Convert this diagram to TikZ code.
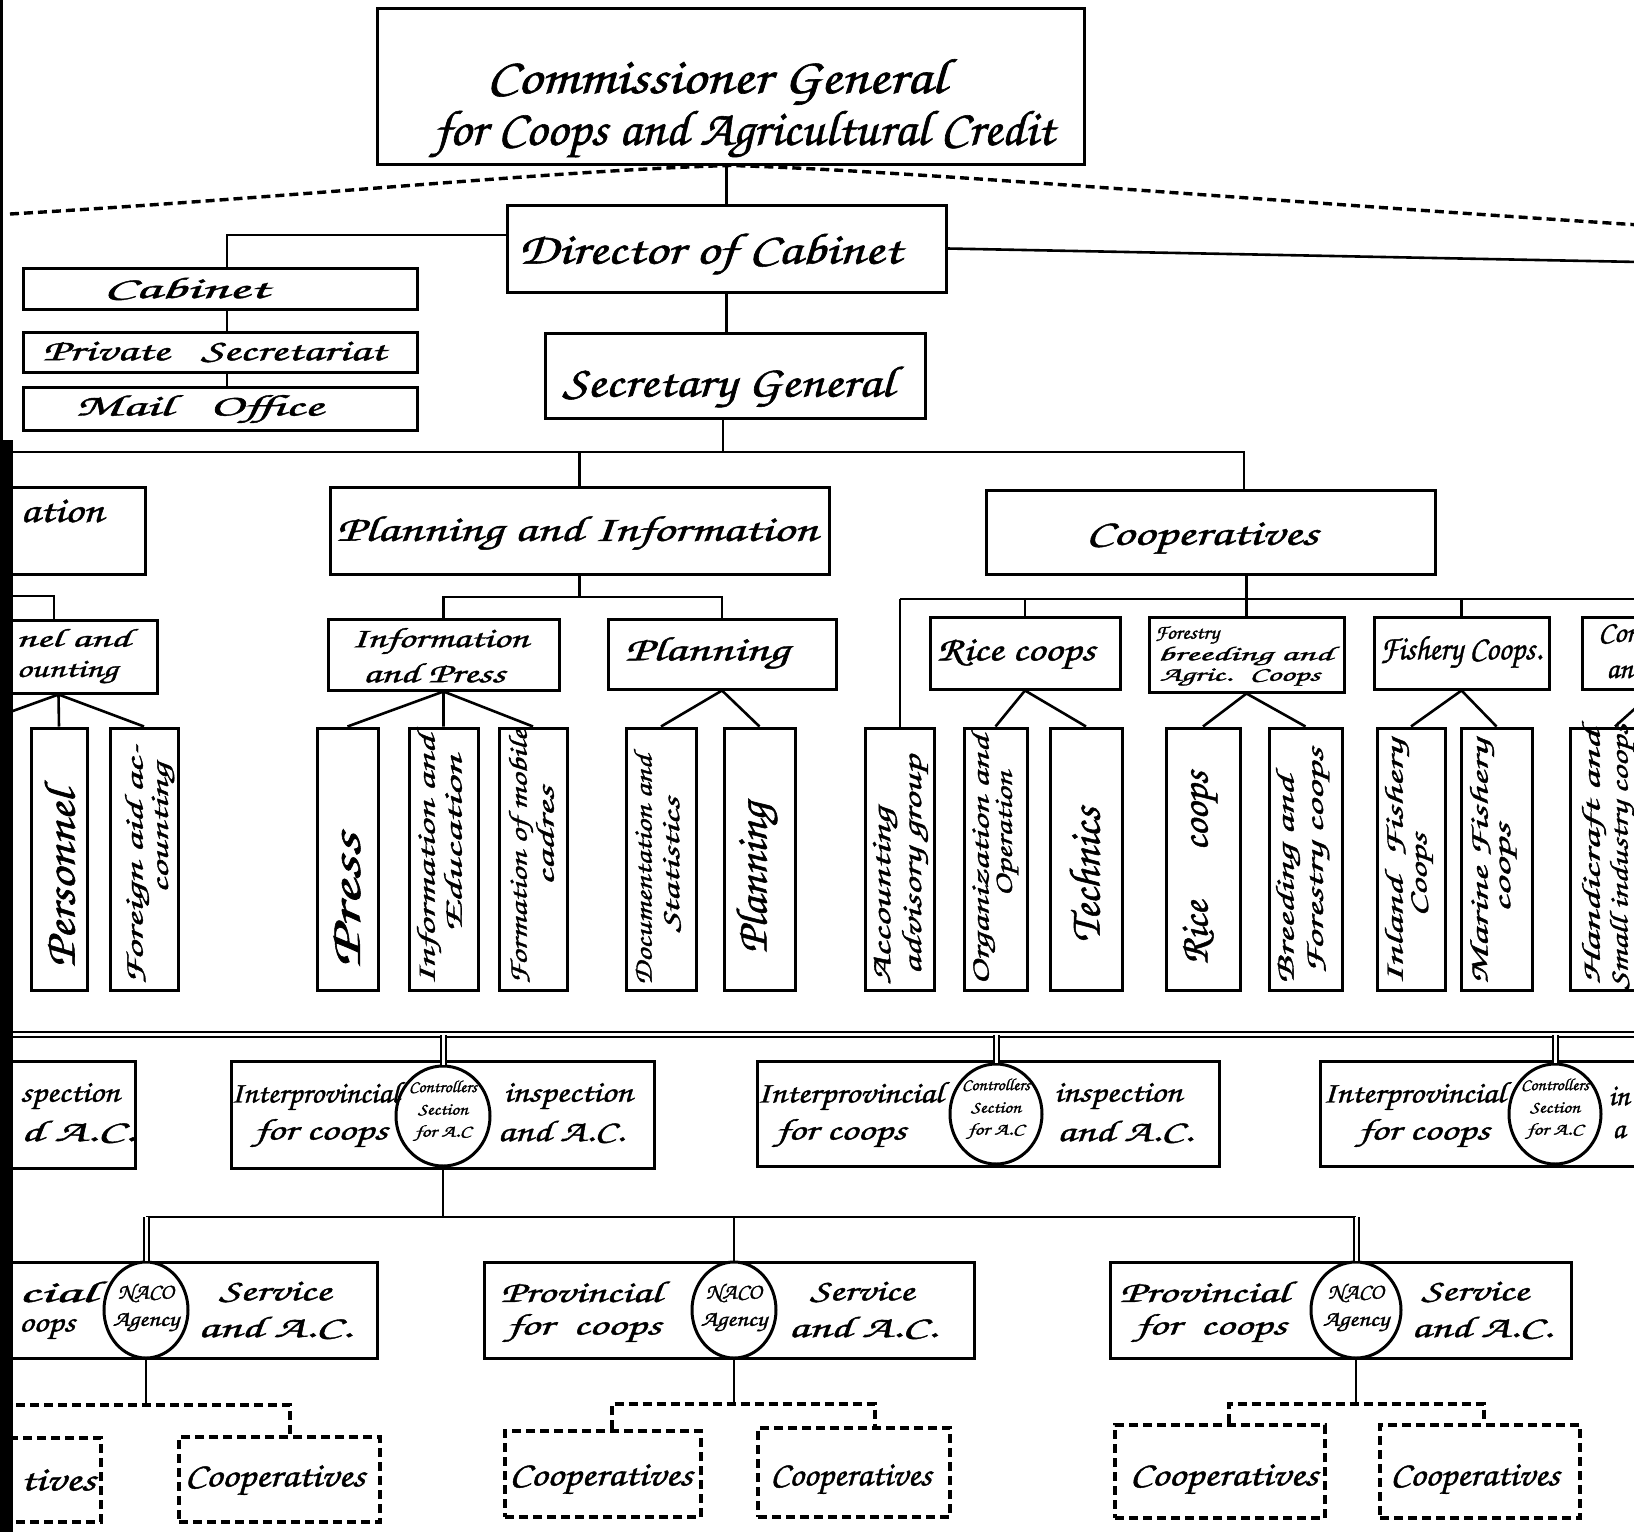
\documentclass[tikz,border=0pt]{standalone}
\usepackage{fontspec}
\usepackage{graphicx}
\usetikzlibrary{shapes.geometric,fit,calc}
\IfFontExistsTF{TeX Gyre Chorus}{\newfontfamily\scr{TeX Gyre Chorus}[FakeBold=1.2]}{\newcommand\scr{\itshape}}
\newcommand\fw[2]{\resizebox{#1pt}{\height}{#2}}
\tikzset{
  box/.style={draw, line width=1.5pt, inner sep=0pt},
  dbox/.style={draw, line width=1.6pt, dash pattern=on 4.5pt off 2.5pt, inner sep=0pt},
  ell/.style={ellipse, draw, line width=1.5pt, fill=white, inner sep=0pt},
  ln/.style={line width=1.3pt},
  dsh/.style={line width=1.7pt, dash pattern=on 4.5pt off 2.5pt},
  dbl/.style={double, double distance=1.5pt, line width=1pt},
  fs/.style={font=\scr\fontsize{#1}{#1}\selectfont, inner sep=0pt},
  vt/.style={fs=#1, rotate=90},
}
\begin{document}
\begin{tikzpicture}[x=0.5pt, y=-0.5pt]
\useasboundingbox (0,0) rectangle (1634,1532);
\fill[white] (0,0) rectangle (1634,1532);
\clip (0,0) rectangle (1634,1532);

% ---------- top ----------
\node[box, fit={(377,8) (1084,164)}] (comm) {};
\node[box, fit={(507,205) (946,292)}] (dir) {};
\node[box, fit={(23,268) (417,309)}] (cab) {};
\node[box, fit={(23,332) (417,372)}] (priv) {};
\node[box, fit={(23,387) (417,430)}] (mail) {};
\node[box, fit={(545,333) (925,418)}] (sec) {};

\coordinate (dL) at (10,214);
\coordinate (dR) at (1640,225);
\draw[dsh] (dL) .. controls (300,197) and (560,170) .. (comm.south)
            .. controls (900,170) and (1250,200) .. (dR);
\draw[ln] (dir.north |- comm.south) -- (dir.north);
\coordinate (dl) at (227,235);
\draw[ln] (dl -| dir.west) -- (dl) -- (cab.north -| dl);
\draw[ln] (cab.south -| dl) -- (priv.north -| dl);
\draw[ln] (priv.south -| dl) -- (mail.north -| dl);
\coordinate (dr) at (1640,262);
\draw[ln] (dir.east) -- (dr);
\draw[ln] (dir.south) -- (dir.south |- sec.north);

% ---------- level 1 ----------
\coordinate (b1L) at (10,452);
\coordinate (b1R) at (1244,452);
\coordinate (b1m) at (723,452);
\node[box, fit={(-40,487) (145,574)}] (adm) {};
\node[box, fit={(330,487) (829,574)}] (pi) {};
\node[box, fit={(986,490) (1435,574)}] (coop) {};
\draw[ln] (b1m |- sec.south) -- (b1m);
\draw[ln] (b1L) -- (b1R) -- (b1R |- coop.north);
\draw[ln] (pi.north |- b1L) -- (pi.north);

% ---------- level 2 ----------
\node[box, fit={(-40,620) (157,693)}] (pa) {};
\node[box, fit={(328,619) (559,690)}] (ip) {};
\node[box, fit={(608,619) (836,689)}] (pl) {};
\node[box, fit={(930,617) (1120,689)}] (rc) {};
\node[box, fit={(1149,617) (1344,692)}] (fo) {};
\node[box, fit={(1374,617) (1549,689)}] (fi) {};
\node[box, fit={(1582,617) (1720,689)}] (cn) {};

\coordinate (pa0) at (10,596);
\coordinate (pa1) at (54,596);
\draw[ln] (pa0) -- (pa1) -- (pa1 |- pa.north);
\coordinate (b2) at (0,597);
\draw[ln] (pi.south) -- (pi.south |- b2);
\draw[ln] (ip.north) -- (ip.north |- b2) -- (pl.north |- b2) -- (pl.north);
\coordinate (b3L) at (900,599);
\coordinate (b3R) at (1640,599);
\draw[ln] (b3L) -- (b3R);
\draw[ln] (coop.south -| fo.north) -- (fo.north);
\draw[ln] (rc.north |- b3L) -- (rc.north);
\draw[ln] (fi.north |- b3L) -- (fi.north);

% ---------- tall boxes ----------
\node[box, fit={(31,728) (87,990)}] (pers) {};
\node[box, fit={(110,728) (178,990)}] (fac) {};
\node[box, fit={(317,728) (378,990)}] (press) {};
\node[box, fit={(409,728) (478,990)}] (ie) {};
\node[box, fit={(499,728) (567,990)}] (fm) {};
\node[box, fit={(626,728) (696,990)}] (ds) {};
\node[box, fit={(724,728) (795,990)}] (plt) {};
\node[box, fit={(865,728) (934,990)}] (acc) {};
\node[box, fit={(964,728) (1027,990)}] (oo) {};
\node[box, fit={(1050,728) (1122,990)}] (te) {};
\node[box, fit={(1166,728) (1240,990)}] (rct) {};
\node[box, fit={(1269,728) (1342,990)}] (bf) {};
\node[box, fit={(1377,728) (1445,990)}] (inl) {};
\node[box, fit={(1461,728) (1532,990)}] (mar) {};
\node[box, fit={(1570,728) (1660,990)}] (hc) {};

\coordinate (paL) at (10,712);
\draw[ln] (paL) -- (pa.south) -- (pers.north);
\draw[ln] (pa.south) -- (fac.north);
\draw[ln] (press.north) -- (ip.south) -- (ie.north);
\draw[ln] (ip.south) -- (fm.north);
\draw[ln] (ds.north) -- (pl.south) -- (plt.north);
\draw[ln] (b3L) -- (b3L |- acc.north);
\draw[ln] (oo.north) -- (rc.south) -- (te.north);
\draw[ln] (rct.north) -- (fo.south) -- (bf.north);
\draw[ln] (inl.north) -- (fi.south) -- (mar.north);
\coordinate (hcP) at (1650,695);
\draw[ln] (hcP) -- (hc.north);

% ---------- interprovincial ----------
\coordinate (dblL) at (10,1034.5);
\coordinate (dblR) at (1640,1034.5);
\draw[dbl] (dblL) -- (dblR);
\node[box, fit={(-40,1061) (135,1168)}] (ipL) {};
\node[box, fit={(231,1061) (654,1168)}] (ip1) {};
\node[box, fit={(757,1061) (1219,1166)}] (ip2) {};
\node[box, fit={(1320,1061) (1720,1166)}] (ip3) {};
\node[ell, minimum width=47pt, minimum height=50pt] (c1) at (443,1116) {};
\node[ell, minimum width=46pt, minimum height=50pt] (c2) at (996,1114) {};
\node[ell, minimum width=46pt, minimum height=50pt] (c3) at (1555,1114) {};
\draw[dbl] (c1.north) -- (c1.north |- dblL);
\draw[dbl] (c2.north) -- (c2.north |- dblL);
\draw[dbl] (c3.north) -- (c3.north |- dblL);

% ---------- provincial ----------
\node[box, fit={(-40,1262) (377,1358)}] (pvL) {};
\node[box, fit={(484,1262) (974,1358)}] (pv1) {};
\node[box, fit={(1110,1262) (1571,1358)}] (pv2) {};
\node[ell, minimum width=42pt, minimum height=48pt] (n0) at (146,1310) {};
\node[ell, minimum width=42pt, minimum height=48pt] (n1) at (734,1310) {};
\node[ell, minimum width=45pt, minimum height=48pt] (n2) at (1356,1310) {};
\coordinate (bb) at (443,1217);
\draw[ln] (c1.south) -- (bb);
\draw[ln] (n0.north |- bb) -- (n2.north |- bb);
\draw[dbl] (n0.north) -- (n0.north |- bb);
\draw[ln] (n1.north) -- (n1.north |- bb);
\draw[dbl] (n2.north) -- (n2.north |- bb);

% ---------- dashed cooperatives ----------
\node[dbox, fit={(-40,1438) (101,1522)}] (cL1) {};
\node[dbox, fit={(179,1437) (380,1522)}] (cL2) {};
\node[dbox, fit={(505,1431) (701,1517)}] (cM1) {};
\node[dbox, fit={(758,1428) (950,1517)}] (cM2) {};
\node[dbox, fit={(1115,1425) (1325,1518)}] (cR1) {};
\node[dbox, fit={(1380,1425) (1580,1518)}] (cR2) {};
\coordinate (hL) at (16,1405);
\coordinate (hL2) at (290,1405);
\draw[ln] (n0.south) -- (n0.south |- hL);
\draw[dsh] (hL) -- (hL2) -- (hL2 |- cL2.north);
\coordinate (hM1) at (612,1404);
\coordinate (hM2) at (875,1404);
\draw[ln] (n1.south) -- (n1.south |- hM1);
\draw[dsh] (hM1 |- cM1.north) -- (hM1) -- (hM2) -- (hM2 |- cM2.north);
\coordinate (hR1) at (1229,1404);
\coordinate (hR2) at (1484,1404);
\draw[ln] (n2.south) -- (n2.south |- hR1);
\draw[dsh] (hR1 |- cR1.north) -- (hR1) -- (hR2) -- (hR2 |- cR2.north);

% ---------- texts: top ----------
\node[fs=25] (commA) at (716,82) {\fw{229.5}{Commissioner General}};
\node[fs=25] (commB) at (744,134) {\fw{310}{for Coops and Agricultural Credit}};
\node[fs=22] (dirT) at (710,254) {\fw{191.5}{Director of Cabinet}};
\node[fs=15] (cabT) at (186,289) {\fw{82.5}{Cabinet}};
\node[fs=15] (privT) at (214,352) {\fw{171.5}{Private \ \ Secretariat}};
\node[fs=15] (mailT) at (199,409) {\fw{124}{Mail \ \ Office}};
\node[fs=22] (secT) at (728,387) {\fw{165.5}{Secretary General}};
\node[fs=18] (admT) at (62,511) {\fw{41.5}{ation}};
\node[fs=18] (piT) at (577,533) {\fw{240.5}{Planning and Information}};
\node[fs=18] (coopT) at (1202,538) {\fw{116}{Cooperatives}};

% level 2 texts
\node[fs=13] (paA) at (73,638) {\fw{57}{nel and}};
\node[fs=13] (paB) at (67,672) {\fw{50.5}{ounting}};
\node[fs=14] (ipA) at (440,641) {\fw{88.5}{Information}};
\node[fs=14] (ipB) at (434,673) {\fw{71}{and Press}};
\node[fs=17] (plT) at (707,653) {\fw{82}{Planning}};
\node[fs=17] (rcT) at (1016,654) {\fw{79}{Rice coops}};
\node[fs=10] (foA) at (1187,635) {\fw{32}{Forestry}};
\node[fs=10] (foB) at (1245,656) {\fw{87.5}{breeding and}};
\node[fs=10] (foC) at (1240,677) {\fw{80}{Agric. \ Coops}};
\node[fs=17] (fiT) at (1461,652) {\fw{81}{Fishery Coops.}};
\node[fs=15, anchor=west] (cnA) at (1598,634) {Con};
\node[fs=15, anchor=west] (cnB) at (1606,672) {an};

% tall texts
\node[vt=22] (persT) at (60,879) {\fw{88.5}{Personnel}};
\node[vt=13] (facA) at (137,865) {\fw{120}{Foreign aid ac-}};
\node[vt=13] (facB) at (163,828) {\fw{65}{counting}};
\node[vt=22] (pressT) at (347,901) {\fw{67.5}{Press}};
\node[vt=13] (ieA) at (429,860) {\fw{125}{Information and}};
\node[vt=13] (ieB) at (453,844) {\fw{88.5}{Education}};
\node[vt=13] (fmA) at (521,857) {\fw{127.5}{Formation of mobile}};
\node[vt=13] (fmB) at (545,836) {\fw{49.5}{cadres}};
\node[vt=13] (dsA) at (643,870) {\fw{115}{Documentation and}};
\node[vt=13] (dsB) at (672,865) {\fw{67.5}{Statistics}};
\node[vt=22] (pltT) at (757,878) {\fw{75.5}{Planning}};
\node[vt=14] (accA) at (885,896) {\fw{88.5}{Accounting}};
\node[vt=14] (accB) at (915,865) {\fw{109.5}{advisory group}};
\node[vt=13] (ooA) at (983,860) {\fw{125}{Organization and}};
\node[vt=13] (ooB) at (1007,834) {\fw{62.5}{Operation}};
\node[vt=22] (teT) at (1085,875) {\fw{67.5}{Technics}};
\node[vt=20] (rctT) at (1200,868) {\fw{96.5}{Rice \quad coops}};
\node[vt=13] (bfA) at (1288,880) {\fw{104}{Breeding and}};
\node[vt=13] (bfB) at (1318,861) {\fw{113}{Forestry coops}};
\node[vt=13] (inlA) at (1397,862) {\fw{122.5}{Inland \ Fishery}};
\node[vt=13] (inlB) at (1422,875) {\fw{41.5}{Coops}};
\node[vt=13] (marA) at (1482,862) {\fw{122.5}{Marine Fishery}};
\node[vt=13] (marB) at (1508,868) {\fw{44.5}{coops}};
\node[vt=13] (hcA) at (1594,857) {\fw{127.5}{Handicraft and}};
\node[vt=13] (hcB) at (1622,857) {\fw{133}{Small industry coops}};

% interprovincial texts
\node[fs=15] (ipLA) at (70,1096) {\fw{49.5}{spection}};
\node[fs=15] (ipLB) at (78,1132) {\fw{57}{d A.C.}};
\node[fs=15] (ip1A) at (315,1096) {\fw{84}{Interprovincial}};
\node[fs=15] (ip1B) at (321,1133) {\fw{66.5}{for coops}};
\node[fs=15] (ip1C) at (568,1096) {\fw{64.5}{inspection}};
\node[fs=15] (ip1D) at (561,1132) {\fw{63.5}{and A.C.}};
\node[fs=15] (ip2A) at (850,1096) {\fw{93}{Interprovincial}};
\node[fs=15] (ip2B) at (841,1133) {\fw{65}{for coops}};
\node[fs=15] (ip2C) at (1118,1096) {\fw{64}{inspection}};
\node[fs=15] (ip2D) at (1125,1132) {\fw{68}{and A.C.}};
\node[fs=15] (ip3A) at (1414,1096) {\fw{91}{Interprovincial}};
\node[fs=15] (ip3B) at (1424,1133) {\fw{65.5}{for coops}};
\node[fs=15, anchor=west] (ip3C) at (1608,1096) {in};
\node[fs=15, anchor=west] (ip3D) at (1612,1132) {a};
\foreach \c in {c1,c2,c3}{
  \node[fs=8.5] (\c A) at ($(\c.center)+(0,-29)$) {\fw{34}{Controllers}};
  \node[fs=8.5] (\c B) at ($(\c.center)+(0,-6)$) {\fw{25}{Section}};
  \node[fs=8.5] (\c C) at ($(\c.center)+(0,17)$) {\fw{28}{for A.C}};
}

% provincial texts
\node[fs=15] (pvLA) at (57,1292) {\fw{38.5}{cial}};
\node[fs=15] (pvLB) at (47,1329) {\fw{28}{oops}};
\node[fs=15] (pvLC) at (275,1292) {\fw{56}{Service}};
\node[fs=15] (pvLD) at (275,1328) {\fw{77}{and A.C.}};
\node[fs=15] (pv1A) at (581,1292) {\fw{80.5}{Provincial}};
\node[fs=15] (pv1B) at (584,1328) {\fw{77}{for \ coops}};
\node[fs=15] (pv1C) at (862,1292) {\fw{52}{Service}};
\node[fs=15] (pv1D) at (863,1328) {\fw{74.5}{and A.C.}};
\node[fs=15] (pv2A) at (1204,1292) {\fw{84.5}{Provincial}};
\node[fs=15] (pv2B) at (1211,1328) {\fw{75.5}{for \ coops}};
\node[fs=15] (pv2C) at (1475,1292) {\fw{53.5}{Service}};
\node[fs=15] (pv2D) at (1482,1328) {\fw{70.5}{and A.C.}};
\foreach \n in {n0,n1,n2}{
  \node[fs=11] (\n A) at ($(\n.center)+(0,-17)$) {\fw{28}{NACO}};
  \node[fs=11] (\n B) at ($(\n.center)+(0,12)$) {\fw{33}{Agency}};
}

% cooperatives texts
\node[fs=17] (cL1T) at (58,1480) {\fw{37.5}{tives}};
\node[fs=17] (cL2T) at (275,1480) {\fw{90}{Cooperatives}};
\node[fs=17] (cM1T) at (601,1479) {\fw{91.5}{Cooperatives}};
\node[fs=17] (cM2T) at (851,1479) {\fw{80.5}{Cooperatives}};
\node[fs=17] (cR1T) at (1224,1479) {\fw{94}{Cooperatives}};
\node[fs=17] (cR2T) at (1475,1479) {\fw{84.5}{Cooperatives}};

% scan edge
\fill[black] (0,440) rectangle (13,1532);
\fill[black] (0,0) rectangle (3,440);
\end{tikzpicture}
\end{document}
